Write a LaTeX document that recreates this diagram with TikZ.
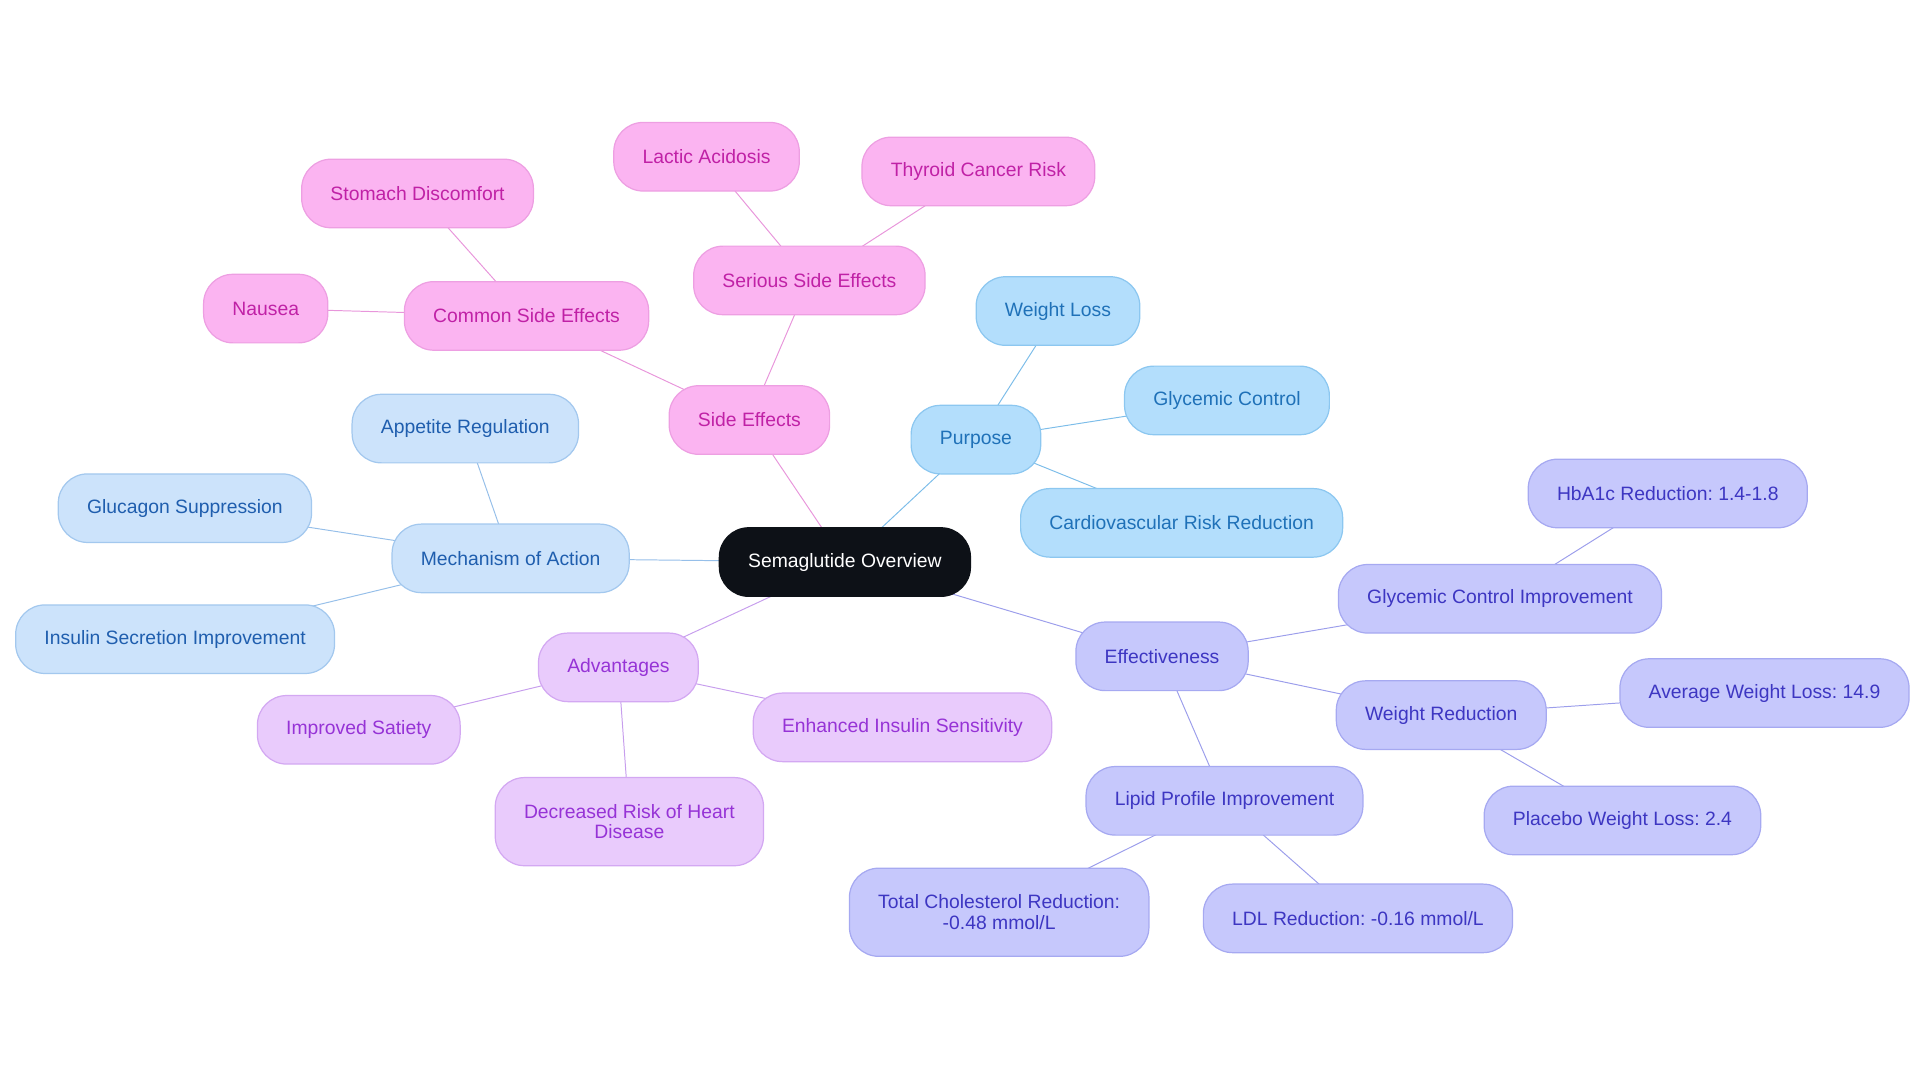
\documentclass[tikz,border=0pt]{standalone}
\usepackage{fontspec}
\setmainfont{Liberation Sans}
\usetikzlibrary{backgrounds}
\frenchspacing

\definecolor{coreFill}{HTML}{0D1117}
\definecolor{purpFill}{HTML}{B3DEFC}\definecolor{purpLine}{HTML}{8CC7F0}
\definecolor{purpText}{HTML}{1F71B8}\definecolor{purpEdge}{HTML}{7DBDE9}
\definecolor{mechFill}{HTML}{CCE3FB}\definecolor{mechLine}{HTML}{A3C8EE}
\definecolor{mechText}{HTML}{1F5EAE}\definecolor{mechEdge}{HTML}{96BFE9}
\definecolor{sideFill}{HTML}{FBB4F1}\definecolor{sideLine}{HTML}{ED9FE2}
\definecolor{sideText}{HTML}{C021A6}\definecolor{sideEdge}{HTML}{E896DB}
\definecolor{advFill}{HTML}{E9CBFC}\definecolor{advLine}{HTML}{D3A8F2}
\definecolor{advText}{HTML}{9633D6}\definecolor{advEdge}{HTML}{C79EED}
\definecolor{effFill}{HTML}{C6C8FC}\definecolor{effLine}{HTML}{A6A9F1}
\definecolor{effText}{HTML}{3D36C2}\definecolor{effEdge}{HTML}{9C9EEB}

\tikzset{
  mm/.style={rounded corners=12pt, draw, line width=0.5pt, minimum height=28pt,
    inner xsep=11.75pt, align=center, font=\fontsize{7.9}{8.5}\selectfont},
  core/.style={mm, fill=coreFill, draw=coreFill, text=white},
  purp/.style={mm, fill=purpFill, draw=purpLine, text=purpText},
  mech/.style={mm, fill=mechFill, draw=mechLine, text=mechText},
  side/.style={mm, fill=sideFill, draw=sideLine, text=sideText},
  adv/.style={mm, fill=advFill, draw=advLine, text=advText},
  eff/.style={mm, fill=effFill, draw=effLine, text=effText},
  link/.style={line width=1.2pt}
}

\begin{document}
\begin{tikzpicture}[x=0.5pt,y=-0.5pt]
  \useasboundingbox (0,0) rectangle (1568,884.4);

  \node[core] (sema) at (690,459) {Semaglutide Overview};

  % purpose
  \node[purp] (purpose) at (797,359) {Purpose};
  \node[purp] (wloss) at (864,254) {Weight Loss};
  \node[purp] (glyc) at (1002,327) {Glycemic Control};
  \node[purp] (cardio) at (965,427) {Cardiovascular Risk Reduction};

  % mechanism
  \node[mech] (mech) at (417,456) {Mechanism of Action};
  \node[mech] (appetite) at (380,350) {Appetite Regulation};
  \node[mech] (glucagon) at (151,415) {Glucagon Suppression};
  \node[mech] (insulin) at (143,522) {Insulin Secretion Improvement};

  % side effects
  \node[side] (side) at (612,343) {Side Effects};
  \node[side] (common) at (430,258) {Common Side Effects};
  \node[side] (stomach) at (341,158) {Stomach Discomfort};
  \node[side] (nausea) at (217,252) {Nausea};
  \node[side] (serious) at (661,229) {Serious Side Effects};
  \node[side] (lactic) at (577,128) {Lactic Acidosis};
  \node[side] (thyroid) at (799,140) {Thyroid Cancer Risk};

  % advantages
  \node[adv] (adv) at (505,545) {Advantages};
  \node[adv] (satiety) at (293,596) {Improved Satiety};
  \node[adv] (sensitivity) at (737,594) {Enhanced Insulin Sensitivity};
  \node[adv, minimum height=36pt] (heart) at (514,671) {Decreased Risk of Heart\\Disease};

  % effectiveness
  \node[eff] (eff) at (949,536) {Effectiveness};
  \node[eff] (gci) at (1225,489) {Glycemic Control Improvement};
  \node[eff] (hba) at (1362,403) {HbA1c Reduction: 1.4-1.8};
  \node[eff] (wred) at (1177,584) {Weight Reduction};
  \node[eff] (avg) at (1441,566) {Average Weight Loss: 14.9};
  \node[eff] (placebo) at (1325,670) {Placebo Weight Loss: 2.4};
  \node[eff] (lipid) at (1000,654) {Lipid Profile Improvement};
  \node[eff, minimum height=36pt] (chol) at (816,745) {Total Cholesterol Reduction:\\-0.48 mmol/L};
  \node[eff] (ldl) at (1109,750) {LDL Reduction: -0.16 mmol/L};

  \begin{scope}[on background layer, link]
    \foreach \a/\b in {sema/purpose, purpose/wloss, purpose/glyc, purpose/cardio}
      \draw[purpEdge] (\a.center) -- (\b.center);
    \foreach \a/\b in {sema/mech, mech/appetite, mech/glucagon, mech/insulin}
      \draw[mechEdge] (\a.center) -- (\b.center);
    \foreach \a/\b in {sema/side, side/common, common/stomach, common/nausea,
                       side/serious, serious/lactic, serious/thyroid}
      \draw[sideEdge] (\a.center) -- (\b.center);
    \foreach \a/\b in {sema/adv, adv/satiety, adv/sensitivity, adv/heart}
      \draw[advEdge] (\a.center) -- (\b.center);
    \foreach \a/\b in {sema/eff, eff/gci, gci/hba, eff/wred, wred/avg, wred/placebo,
                       eff/lipid, lipid/chol, lipid/ldl}
      \draw[effEdge] (\a.center) -- (\b.center);
  \end{scope}
\end{tikzpicture}
\end{document}
